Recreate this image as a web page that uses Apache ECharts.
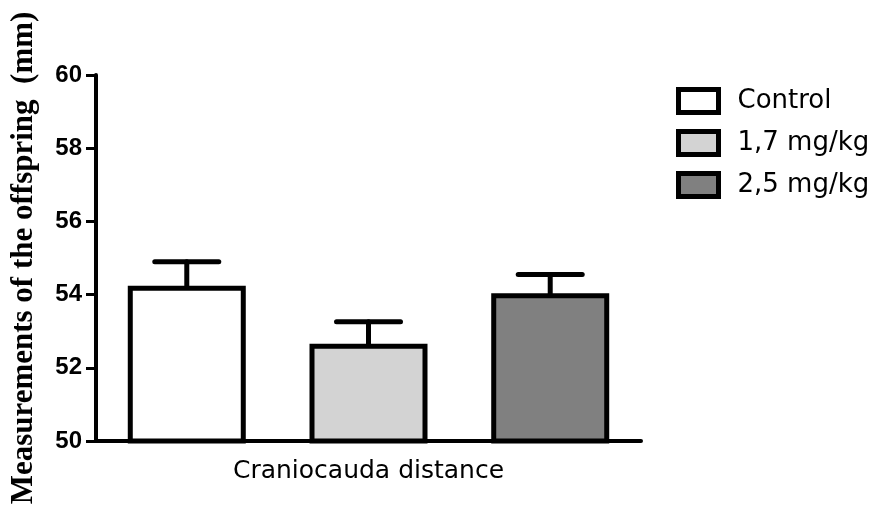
<!DOCTYPE html>
<html>
<head>
<meta charset="utf-8">
<script src="https://cdn.jsdelivr.net/npm/echarts@6/dist/echarts.min.js"></script>
<style>
html,body{margin:0;padding:0;background:#fff;}
#chart{width:875px;height:509px;}
</style>
</head>
<body>
<div id="chart"></div>
<script>
const categories = ['Craniocauda distance'];
const groupNames = ['Control', '1,7 mg/kg', '2,5 mg/kg'];
const means = [54.24, 52.66, 54.04];
const sems = [0.66, 0.6, 0.51];
const fillColors = ['#ffffff', '#d3d3d3', '#808080'];
const yTicks = {min: 50, max: 60, interval: 2};

const BAR_W = 118;
const BAR_GAP = 0.54;
const CAP_W = 64;

const chart = echarts.init(document.getElementById('chart'), null, {renderer: 'canvas'});

const barSeries = groupNames.map((name, i) => ({
  name: name,
  type: 'bar',
  data: [means[i]],
  barWidth: BAR_W,
  barGap: (BAR_GAP * 100) + '%',
  itemStyle: {color: fillColors[i], borderColor: '#000', borderWidth: 5},
  emphasis: {disabled: true},
  z: 2
}));

const errSeries = groupNames.map((name, i) => ({
  type: 'custom',
  name: 'err' + i,
  data: [[0, means[i], sems[i]]],
  z: 1,
  silent: true,
  renderItem: function (params, api) {
    const off = (i - 1) * BAR_W * (1 + BAR_GAP);
    const base = api.coord([api.value(0), api.value(1)]);
    const top = api.coord([api.value(0), api.value(1) + api.value(2)]);
    const x = base[0] + off;
    const st = {stroke: '#000', lineWidth: 5, lineCap: 'round'};
    return {
      type: 'group',
      children: [
        {type: 'line', shape: {x1: x, y1: base[1], x2: x, y2: top[1]}, style: st},
        {type: 'line', shape: {x1: x - CAP_W / 2, y1: top[1], x2: x + CAP_W / 2, y2: top[1]}, style: st}
      ]
    };
  }
}));

chart.setOption({
  animation: false,
  backgroundColor: '#fff',
  grid: {left: 94, right: 234, top: 75, bottom: 68, containLabel: false},
  legend: {
    orient: 'vertical',
    left: 676,
    top: 87,
    padding: 0,
    itemWidth: 40,
    itemHeight: 23,
    itemGap: 14,
    icon: 'rect',
    data: groupNames,
    itemStyle: {borderColor: '#000', borderWidth: 5},
    textStyle: {fontFamily: 'DejaVu Sans', fontSize: 26, color: '#000', lineHeight: 26, padding: [0, 0, 0, 14]}
  },
  xAxis: {
    type: 'category',
    data: categories,
    axisLine: {lineStyle: {color: '#000', width: 4}},
    axisTick: {alignWithLabel: true, length: 10, lineStyle: {color: '#000', width: 3}},
    axisLabel: {fontFamily: 'DejaVu Sans', fontSize: 25, color: '#000', margin: 18}
  },
  yAxis: {
    type: 'value',
    min: yTicks.min,
    max: yTicks.max,
    interval: yTicks.interval,
    name: 'Measurements of the offspring  (mm)',
    nameLocation: 'middle',
    nameGap: 57,
    nameTextStyle: {fontFamily: 'Liberation Serif', fontWeight: 'bold', fontSize: 31, color: '#000'},
    splitLine: {show: false},
    axisLine: {show: true, lineStyle: {color: '#000', width: 4}},
    axisTick: {show: true, inside: false, length: 10, lineStyle: {color: '#000', width: 3}},
    axisLabel: {fontFamily: 'Liberation Sans', fontWeight: 'bold', fontSize: 24, color: '#000', margin: 14}
  },
  series: [...barSeries, ...errSeries]
});
</script>
</body>
</html>
